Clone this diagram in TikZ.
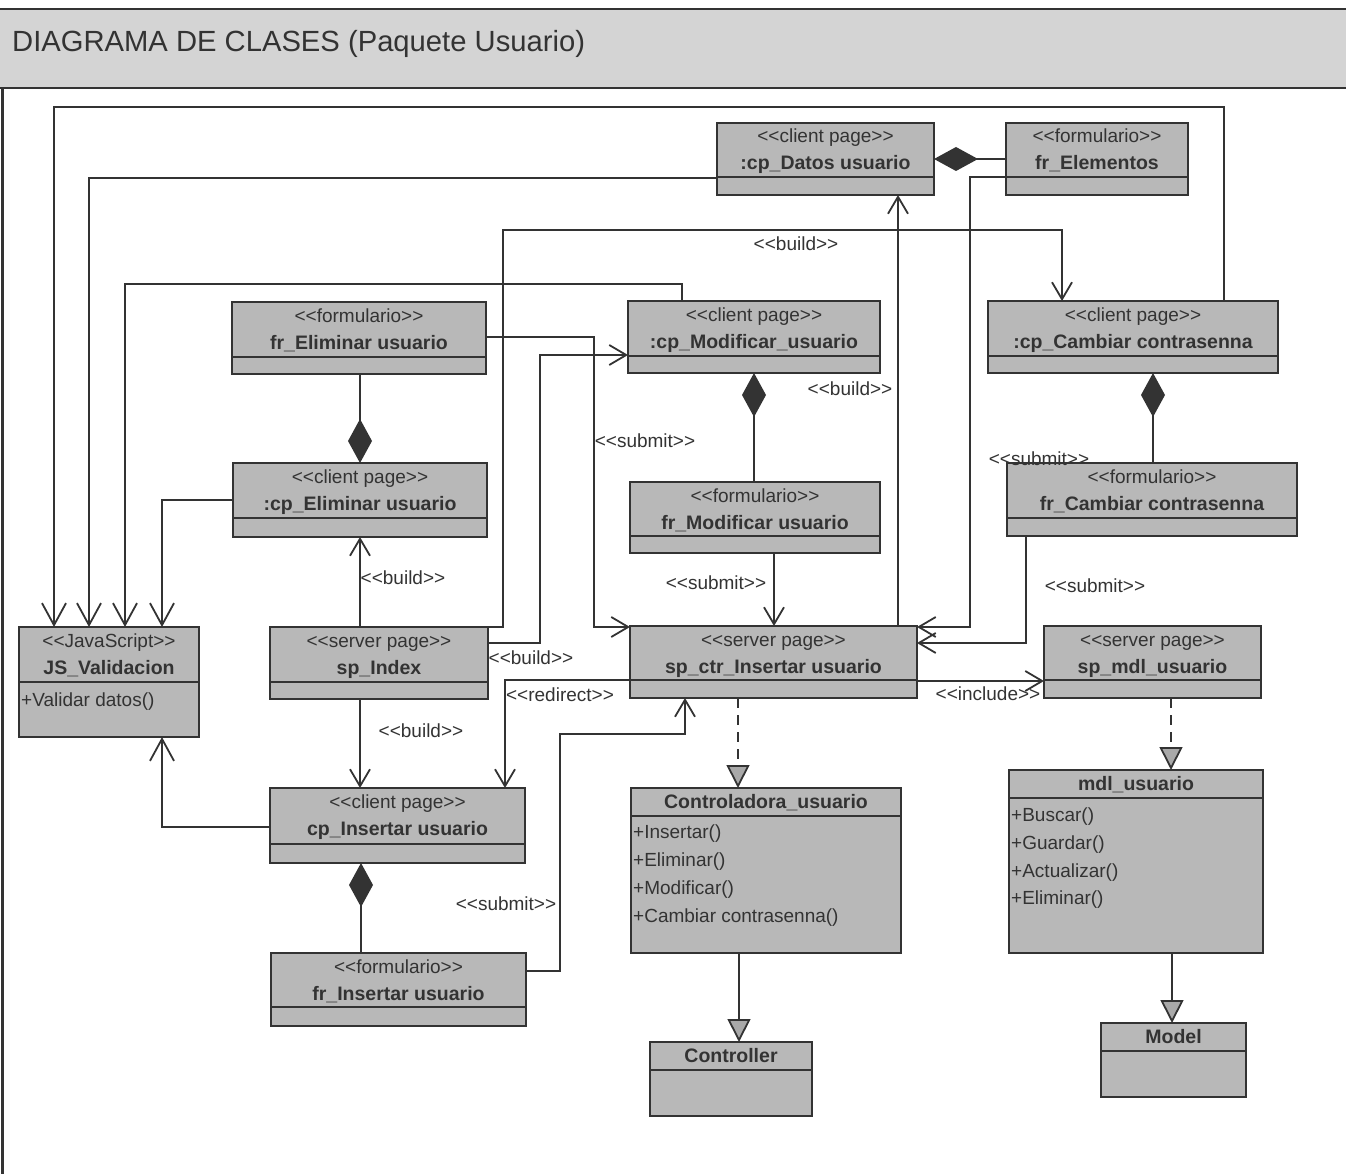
\documentclass[tikz,border=0pt]{standalone}
\usepackage{fontspec}
\setmainfont{Liberation Sans}
\usetikzlibrary{arrows.meta}

\definecolor{ink}{HTML}{333333}
\definecolor{boxfill}{HTML}{B8B8B8}
\definecolor{barfill}{HTML}{D4D4D4}
\definecolor{tipfill}{HTML}{A9A9A9}

% guillemet-free stereotype brackets
\newcommand\stq[1]{<\kern0pt<#1>\kern0pt>}

\tikzset{
  clsbox/.style={draw=ink, line width=2pt, fill=boxfill, inner sep=0pt, outer sep=0pt},
  clsedge/.style={draw=ink, line width=2pt},
  stereo/.style={font=\fontsize{19}{21}\selectfont, text=ink, anchor=base, inner sep=0pt},
  cname/.style={font=\bfseries\fontsize{19.5}{21}\selectfont, text=ink, anchor=base, inner sep=0pt},
  oper/.style={font=\fontsize{19}{21}\selectfont, text=ink, anchor=base west, inner sep=0pt},
  lbl/.style={font=\fontsize{19}{21}\selectfont, text=ink, inner sep=0pt},
  conn/.style={draw=ink, line width=1.8pt},
  dep/.style={conn, -{Straight Barb[length=17pt,width=20pt,line width=1.8pt]}},
  depjs/.style={conn, -{Straight Barb[length=22pt,width=24pt,line width=1.8pt]}},
  comp/.style={conn, {Diamond[length=44pt,width=24pt,fill=ink]}-},
  real/.style={conn, dash pattern=on 10pt off 7pt, -{Triangle[length=23pt,width=23pt,fill=tipfill,line width=1.8pt]}},
  gen/.style={conn, -{Triangle[length=23pt,width=23pt,fill=tipfill,line width=1.8pt]}},
}

% class with stereotype: name, x, y, width, height, header height, stereotype, title
\newcommand\umlclass[8]{%
  \node[clsbox, minimum width=#4pt, minimum height=#5pt, anchor=north west] (#1) at (#2,#3) {};
  \draw[clsedge] ([yshift=-#6pt]#1.north west) -- ([yshift=-#6pt]#1.north east);
  \node[stereo] (#1-st) at ([yshift=-20pt]#1.north) {\stq{#7}};
  \node[cname] (#1-nm) at ([yshift=-47pt]#1.north) {#8};
}
% plain class: name, x, y, width, height, title
\newcommand\umlplain[6]{%
  \node[clsbox, minimum width=#4pt, minimum height=#5pt, anchor=north west] (#1) at (#2,#3) {};
  \draw[clsedge] ([yshift=-28pt]#1.north west) -- ([yshift=-28pt]#1.north east);
  \node[cname] (#1-nm) at ([yshift=-20pt]#1.north) {#6};
}

\begin{document}
\begin{tikzpicture}[x=1pt,y=-1pt]
\useasboundingbox (0,0) rectangle (1346,1174);

% title bar and frame
\path[fill=barfill] (-3,9) rectangle (1349,88);
\draw[ink, line width=2pt] (-3,9) -- (1349,9);
\draw[ink, line width=2pt] (-3,88) -- (1349,88);
\draw[ink, line width=2.5pt] (2.5,88) -- (2.5,1180);
\node[anchor=base west, font=\fontsize{29.2}{31}\selectfont, text=ink, inner sep=0pt] (title) at (12,52) {DIAGRAMA DE CLASES (Paquete Usuario)};

% classes
\umlclass{datos}{717}{123}{217}{72}{54}{client page}{:cp\_Datos usuario}
\umlclass{elem}{1006}{123}{182}{72}{54}{formulario}{fr\_Elementos}
\umlclass{frelim}{232}{302}{254}{72}{55}{formulario}{fr\_Eliminar usuario}
\umlclass{cpmod}{628}{301}{252}{72}{55}{client page}{:cp\_Modificar\_usuario}
\umlclass{cpcamb}{988}{301}{290}{72}{55}{client page}{:cp\_Cambiar contrasenna}
\umlclass{cpelim}{233}{463}{254}{74}{55}{client page}{:cp\_Eliminar usuario}
\umlclass{frmod}{630}{482}{250}{71}{54}{formulario}{fr\_Modificar usuario}
\umlclass{frcamb}{1007}{463}{290}{73}{55}{formulario}{fr\_Cambiar contrasenna}
\umlclass{js}{19}{627}{180}{110}{55}{JavaScript}{JS\_Validacion}
\node[oper] (js-op) at (21,706) {+Validar datos()};
\umlclass{spidx}{270}{627}{218}{72}{55}{server page}{sp\_Index}
\umlclass{spctr}{630}{626}{287}{72}{54}{server page}{sp\_ctr\_Insertar usuario}
\umlclass{spmdl}{1044}{626}{217}{72}{54}{server page}{sp\_mdl\_usuario}
\umlclass{cpins}{270}{788}{255}{75}{56}{client page}{cp\_Insertar usuario}
\umlclass{frins}{271}{953}{255}{73}{54}{formulario}{fr\_Insertar usuario}

\umlplain{ctrl}{631}{788}{270}{165}{Controladora\_usuario}
\node[oper] (ctrl-op1) at (633,838) {+Insertar()};
\node[oper] (ctrl-op2) at (633,866) {+Eliminar()};
\node[oper] (ctrl-op3) at (633,894) {+Modificar()};
\node[oper] (ctrl-op4) at (633,922) {+Cambiar contrasenna()};

\umlplain{mdl}{1009}{770}{254}{183}{mdl\_usuario}
\node[oper] (mdl-op1) at (1011,821) {+Buscar()};
\node[oper] (mdl-op2) at (1011,849) {+Guardar()};
\node[oper] (mdl-op3) at (1011,877) {+Actualizar()};
\node[oper] (mdl-op4) at (1011,904) {+Eliminar()};

\umlplain{controller}{650}{1042}{162}{74}{Controller}
\umlplain{model}{1101}{1023}{145}{74}{Model}

% dependencies into JS_Validacion
\draw[depjs] (cpcamb.north -| 1224,0) |- (54,107) -- (js.north -| 54,0);
\draw[depjs] (datos.west |- 0,178) -| (js.north -| 89,0);
\draw[depjs] (cpmod.north -| 682,0) |- (125,284) -- (js.north -| 125,0);
\draw[depjs] (cpelim.west |- 0,500) -| (js.north -| 162,0);
\draw[depjs] (cpins.west |- 0,827) -| (js.south -| 162,0);

% build / submit / redirect dependencies
\draw[dep] (spidx.north east) -| (503,230) -| (cpcamb.north -| 1062,0);
\draw[dep] (spidx.east |- 0,643) -| (540,355) -- (cpmod.west |- 0,355);
\draw[dep] (frelim.east |- 0,337) -| (594,627) -- (spctr.west |- 0,627);
\draw[dep] (spidx.north -| 360,0) -- (cpelim.south -| 360,0);
\draw[dep] (spidx.south -| 360,0) -- (cpins.north -| 360,0);
\draw[dep] (spctr.west |- 0,680) -| (cpins.north -| 505,0);
\draw[dep] (frins.east |- 0,971) -| (560,734) -| (spctr.south -| 685,0);
\draw[dep] (frmod.south -| 774,0) -- (spctr.north -| 774,0);
\draw[dep] (spctr.north -| 898,0) -- (datos.south -| 898,0);
\draw[dep] (elem.west |- 0,177) -| (970,627) -- (spctr.east |- 0,627);
\draw[dep] (frcamb.south -| 1026,0) |- (spctr.east |- 0,643);
\draw[dep] (spctr.east |- 0,681) -- (spmdl.west |- 0,681);

% compositions
\draw[comp] (cpelim.north -| 360,0) -- (frelim.south -| 360,0);
\draw[comp] (cpins.south -| 361,0) -- (frins.north -| 361,0);
\draw[comp] (cpmod.south -| 754,0) -- (frmod.north -| 754,0);
\draw[comp] (datos.east |- 0,159) -- (elem.west |- 0,159);
\draw[comp] (cpcamb.south -| 1153,0) -- (frcamb.north -| 1153,0);

% realizations and generalizations
\draw[real] (spctr.south -| 738,0) -- (ctrl.north -| 738,0);
\draw[real] (spmdl.south -| 1171,0) -- (mdl.north -| 1171,0);
\draw[gen] (ctrl.south -| 739,0) -- (controller.north -| 739,0);
\draw[gen] (mdl.south -| 1172,0) -- (model.north -| 1172,0);

% connector labels
\node[lbl] (lb1) at (796,244) {\stq{build}};
\node[lbl] (lb2) at (850,389) {\stq{build}};
\node[lbl] (lb3) at (531,658) {\stq{build}};
\node[lbl] (lb4) at (403,578) {\stq{build}};
\node[lbl] (lb5) at (421,731) {\stq{build}};
\node[lbl] (ls1) at (645,441) {\stq{submit}};
\node[lbl] (ls2) at (716,583) {\stq{submit}};
\node[lbl] (ls3) at (1039,459) {\stq{submit}};
\node[lbl] (ls4) at (1095,586) {\stq{submit}};
\node[lbl] (ls5) at (506,904) {\stq{submit}};
\node[lbl] (lr1) at (560,695) {\stq{redirect}};
\node[lbl] (li1) at (988,694) {\stq{include}};
\end{tikzpicture}
\end{document}
